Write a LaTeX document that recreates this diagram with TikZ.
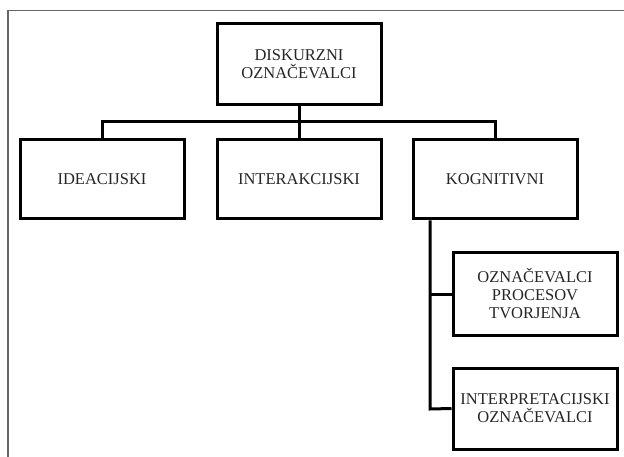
\documentclass[tikz,border=0pt]{standalone}
\usepackage{fontspec}
\setmainfont{Liberation Serif}
\begin{document}
\begin{tikzpicture}[x=1pt,y=-1pt,
  box/.style={draw=black,line width=3pt,fill=white,align=center,inner sep=1pt,
    minimum width=164pt,font=\fontsize{16.5}{18}\selectfont,text=black!85},
  conn/.style={draw=black,line width=3pt}]
\useasboundingbox (0,0) rectangle (624,457);
\fill[white] (0,0) rectangle (624,457);
\draw[gray!80!black,line width=1.2pt] (8,457) -- (8,10.5) -- (624,10.5);
\node[box,minimum height=81pt] (root) at (299,64.5) {DISKURZNI\\OZNAČEVALCI};
\node[box,minimum height=79pt] (ide) at (102,179.5) {IDEACIJSKI};
\node[box,minimum height=79pt] (int) at (299,179.5) {INTERAKCIJSKI};
\node[box,minimum height=79pt] (kog) at (495,179.5) {KOGNITIVNI};
\node[box,minimum height=82pt] (proc) at (535,294) {OZNAČEVALCI\\PROCESOV\\TVORJENJA};
\node[box,minimum height=81pt] (interp) at (535,408.5) {INTERPRETACIJSKI\\OZNAČEVALCI};
\coordinate (bus) at (299,122);
\draw[conn] (root.south) -- (int.north);
\draw[conn] (ide.north) |- (bus) -| (kog.north);
\coordinate (trunk) at (430,409);
\draw[conn] (kog.south -| trunk) -- (trunk) -- (interp.west);
\draw[conn] (proc.west) -- (proc.west -| trunk);
\end{tikzpicture}
\end{document}
